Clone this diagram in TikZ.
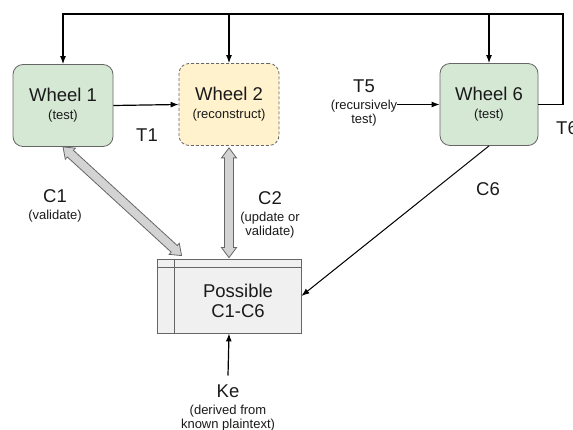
\documentclass[tikz,border=0pt]{standalone}
\usepackage{fontspec}
\setmainfont{Liberation Sans}
\usepackage{xcolor}
\usepackage{tikz}
\usetikzlibrary{arrows.meta}
\usetikzlibrary{calc}
\usetikzlibrary{positioning}
\definecolor{wheelgreen}{HTML}{D5E8D4}
\definecolor{wheelyellow}{HTML}{FFF2CC}
\definecolor{boxline}{HTML}{666666}
\definecolor{possfill}{HTML}{F0F0F0}
\definecolor{fatfill}{HTML}{D3D3D3}
\definecolor{textdark}{HTML}{1A1A1A}
\newcommand{\bigtext}{\fontsize{18.5}{21}\selectfont}
\newcommand{\smalltext}{\fontsize{13}{15}\selectfont}
\tikzset{fatarrow/.style={draw=boxline, fill=fatfill, line width=0.8pt, line join=miter}}
% hollow double-headed arrow between two points
\newcommand{\fatarrow}[2]{%
  \path[fatarrow] let \p1=(#1), \p2=(#2),
      \n1={atan2(\y2-\y1,\x2-\x1)}, \n2={veclen(\x2-\x1,\y2-\y1)},
      \n3={\n2-10pt} in
    ([shift={(\p1)},rotate=\n1]0pt,0pt)
    -- ([shift={(\p1)},rotate=\n1]10pt,7.5pt)
    -- ([shift={(\p1)},rotate=\n1]10pt,4.5pt)
    -- ([shift={(\p1)},rotate=\n1]\n3,4.5pt)
    -- ([shift={(\p1)},rotate=\n1]\n3,7.5pt)
    -- ([shift={(\p1)},rotate=\n1]\n2,0pt)
    -- ([shift={(\p1)},rotate=\n1]\n3,-7.5pt)
    -- ([shift={(\p1)},rotate=\n1]\n3,-4.5pt)
    -- ([shift={(\p1)},rotate=\n1]10pt,-4.5pt)
    -- ([shift={(\p1)},rotate=\n1]10pt,-7.5pt)
    -- cycle;%
}

\begin{document}
\begin{tikzpicture}[
        x=1pt, y=-1pt,
        >={Latex[length=8pt,width=6pt]},
        wheel/.style={rectangle, rounded corners=10pt, draw=boxline, line width=0.8pt,
                      fill=wheelgreen, minimum width=100pt, minimum height=82pt,
                      align=center, font=\bigtext, text=textdark},
        rebuild/.style={wheel, fill=wheelyellow, dash pattern=on 3pt off 2pt},
        store/.style={rectangle, draw=boxline, line width=0.8pt, fill=possfill,
                      minimum width=144pt, minimum height=74pt},
        tag/.style={align=center, font=\bigtext, text=textdark, inner sep=0pt},
        link/.style={line width=1.2pt, black},
    ]

    \useasboundingbox (0,0) rectangle (573,430);

    % The three wheels
    \node[wheel] (wheel1) at (63,105.5) {Wheel 1\\[-3pt]{\smalltext (test)}};
    \node[rebuild] (wheel2) at (229,104.5) {Wheel 2\\[-3pt]{\smalltext (reconstruct)}};
    \node[wheel, minimum width=98pt] (wheel6) at (489,104.5) {Wheel 6\\[-3pt]{\smalltext (test)}};

    % Candidate store
    \node[store] (poss) at (229,296) {};
    \draw[boxline, line width=0.8pt] ([yshift=-9pt]poss.north west) -- ([yshift=-9pt]poss.north east);
    \draw[boxline, line width=0.8pt] ([xshift=18pt]poss.north west) -- ([xshift=18pt]poss.south west);
    \node[tag] (posslabel) at ($(poss.south east)!0.5!([xshift=18pt,yshift=-9pt]poss.north west)$)
        {Possible\\[-1pt]C1-C6};

    % Feedback loop over the top
    \coordinate (loopcorner) at (563,14);
    \draw[link, ->] (wheel6.east) -| (loopcorner) -| (wheel1.north);
    \draw[link, ->] (wheel2.north |- loopcorner) -- (wheel2.north);
    \draw[link, ->] (wheel6.north |- loopcorner) -- (wheel6.north);
    \node[tag, anchor=north west] (t6) at (556,121.5) {T6};

    % Wheel 1 to Wheel 2
    \draw[link, ->] (wheel1.east) -- (wheel2.west);
    \node[tag, anchor=north] (t1) at (147,128.5) {T1};

    % Recursive test into Wheel 6
    \node[tag, anchor=north] (t5) at (364,79.5)
        {T5\\[-4pt]{\smalltext (recursively}\\[-7pt]{\smalltext test)}};
    \draw[link, ->] (t5.east |- wheel6.west) -- (wheel6.west);

    % Links to the candidate store
    \fatarrow{wheel1.south}{$([xshift=25pt,yshift=3pt]poss.north west)$}
    \node[tag, anchor=north] (c1) at (55,189.5) {C1\\[-4pt]{\smalltext (validate)}};

    \fatarrow{$([yshift=-2pt]wheel2.south)$}{$([yshift=1pt]poss.north)$}
    \node[tag, anchor=north] (c2) at (270,191.5)
        {C2\\[-4pt]{\smalltext (update or}\\[-7pt]{\smalltext validate)}};

    \draw[link, ->, line width=1pt] (wheel6.south) -- (poss.east);
    \node[tag, anchor=north] (c6) at (488,182.5) {C6};

    % Known plaintext input
    \node[tag, anchor=north] (ke) at (228,384.5)
        {Ke\\[-4pt]{\smalltext (derived from}\\[-7pt]{\smalltext known plaintext)}};
    \draw[link, ->] ([yshift=9pt]ke.north) -- (poss.south);

\end{tikzpicture}
\end{document}
